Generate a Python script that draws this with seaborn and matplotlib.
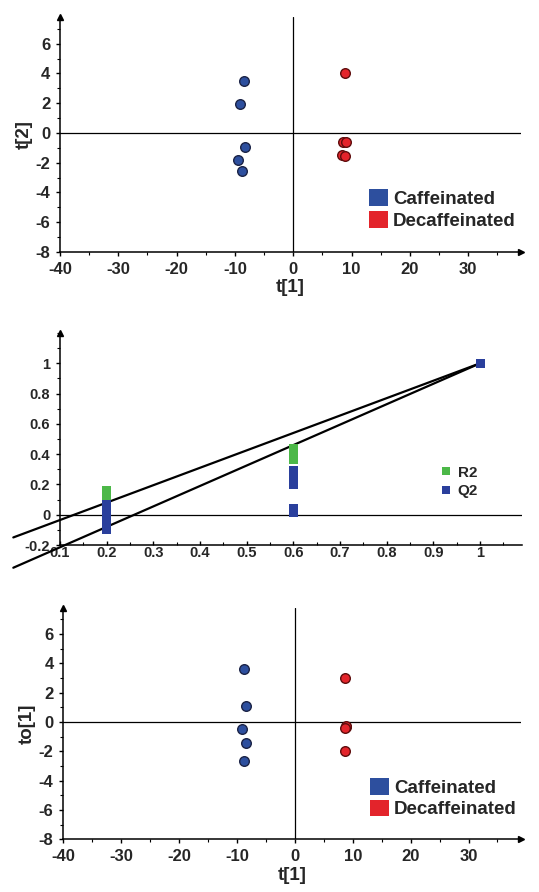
import matplotlib
matplotlib.use("Agg")
import matplotlib.pyplot as plt
from matplotlib.patches import Patch
from matplotlib.lines import Line2D
from matplotlib.ticker import MultipleLocator, FuncFormatter
import pandas as pd
import seaborn as sns

# ---------------------------------------------------------------- data
groups = ["Caffeinated", "Decaffeinated"]
group_colors = ["#2d4f9e", "#e3242b"]
group_edges = ["#1b2346", "#5e0d0d"]

# PLS-DA scores: t[1] vs t[2]
pls_caf_t1 = [-8.5, -9.1, -8.2, -9.4, -8.7]
pls_caf_t2 = [3.5, 1.95, -0.95, -1.8, -2.55]
pls_dec_t1 = [8.9, 8.6, 9.0, 8.3, 8.8]
pls_dec_t2 = [4.05, -0.6, -0.6, -1.45, -1.55]

# Permutation test (correlation of permuted Y vs. original Y)
perm_corr = [0.2] * 8 + [0.6] * 6 + [1.0]
perm_r2 = [0.16, 0.15, 0.14, 0.13, 0.12, 0.11, 0.10, 0.09,
           0.435, 0.42, 0.40, 0.385, 0.37, 0.365, 1.0]
perm_q2 = [0.065, 0.04, 0.02, 0.0, -0.025, -0.05, -0.075, -0.097,
           0.29, 0.26, 0.23, 0.20, 0.04, 0.015, 1.0]
r2_intercept = -0.15
q2_intercept = -0.35
perm_colors = {"R2": "#4cb848", "Q2": "#2a3f9c"}

# OPLS-DA scores: t[1] vs to[1]
opls_caf_t1 = [-8.8, -8.5, -9.05, -8.35, -8.8]
opls_caf_to = [3.6, 1.1, -0.5, -1.45, -2.65]
opls_dec_t1 = [8.75, 8.8, 8.9, 8.75, 8.7]
opls_dec_to = [3.0, -0.35, -0.25, -0.4, -2.0]

# ---------------------------------------------------------------- style
sns.set_theme(style="white")
plt.rcParams["font.family"] = ["Liberation Sans", "DejaVu Sans"]
plt.rcParams["font.weight"] = "bold"
plt.rcParams["axes.labelweight"] = "bold"
plt.rcParams["axes.unicode_minus"] = False

fig = plt.figure(figsize=(5.39, 8.92), dpi=100)

ax_top = fig.add_axes([0.1113, 0.7175, 0.8546, 0.2635])
ax_mid = fig.add_axes([0.1113, 0.3890, 0.8566, 0.2377])
ax_bot = fig.add_axes([0.1173, 0.0591, 0.8486, 0.2597])


def axis_frame(ax, right_arrow=True):
    for side in ("top", "right"):
        ax.spines[side].set_visible(False)
    for side in ("left", "bottom"):
        ax.spines[side].set_color("black")
        ax.spines[side].set_linewidth(1.1)
    ax.plot(0, 1, marker="^", color="black", markersize=4,
            transform=ax.transAxes, clip_on=False)
    if right_arrow:
        ax.plot(1, 0, marker=">", color="black", markersize=4,
                transform=ax.transAxes, clip_on=False)
    ax.tick_params(which="major", direction="out", length=3, width=1,
                   color="black", bottom=True, left=True)
    ax.tick_params(which="minor", direction="out", length=2, width=0.8,
                   color="black", bottom=True, left=True)
    ax.grid(False)


def score_panel(ax, caf_x, caf_y, dec_x, dec_y, ylabel):
    df = pd.DataFrame({
        "t1": caf_x + dec_x,
        "score": caf_y + dec_y,
        "group": [groups[0]] * len(caf_x) + [groups[1]] * len(dec_x),
    })
    for g, fc, ec in zip(groups, group_colors, group_edges):
        sns.scatterplot(data=df[df["group"] == g], x="t1", y="score",
                        color=fc, edgecolor=ec, linewidth=1.0, s=48,
                        ax=ax, legend=False, zorder=3)
    ax.axhline(0, color="black", lw=0.9, zorder=1)
    ax.axvline(0, color="black", lw=0.9, zorder=1)
    ax.set_xlim(-40, 39)
    ax.set_ylim(-8, 7.8)
    ax.xaxis.set_major_locator(MultipleLocator(10))
    ax.xaxis.set_minor_locator(MultipleLocator(5))
    ax.yaxis.set_major_locator(MultipleLocator(2))
    ax.yaxis.set_minor_locator(MultipleLocator(1))
    ax.set_yticks(range(-8, 7, 2))
    axis_frame(ax)
    ax.tick_params(axis="both", labelsize=12, pad=4)
    for lab in ax.get_xticklabels() + ax.get_yticklabels():
        lab.set_fontweight("bold")
    ax.set_xlabel("t[1]", fontsize=13.5, fontweight="bold", labelpad=2)
    ax.set_ylabel(ylabel, fontsize=13.5, fontweight="bold", labelpad=2)
    handles = [Patch(facecolor=c, edgecolor="none", label=g)
               for g, c in zip(groups, group_colors)]
    ax.legend(handles=handles, loc="center left",
              bbox_to_anchor=(0.671, 0.18), frameon=False,
              prop={"size": 13.5, "weight": "bold"},
              handlelength=1.0, handleheight=1.0, handletextpad=0.27,
              labelspacing=0.15, borderpad=0, borderaxespad=0)


# ---- top: PLS-DA scores
score_panel(ax_top, pls_caf_t1, pls_caf_t2, pls_dec_t1, pls_dec_t2, "t[2]")

# ---- middle: permutation validation
perm_df = pd.DataFrame({
    "corr": perm_corr * 2,
    "value": perm_r2 + perm_q2,
    "stat": ["R2"] * len(perm_corr) + ["Q2"] * len(perm_corr),
})
sns.scatterplot(data=perm_df, x="corr", y="value", hue="stat",
                palette=perm_colors, marker="s", s=40, linewidth=0,
                ax=ax_mid, legend=False, zorder=3)
ax_mid.axhline(0, color="black", lw=0.9, zorder=1)
for icpt, top in ((r2_intercept, perm_r2[-1]), (q2_intercept, perm_q2[-1])):
    ax_mid.plot([0, 1], [icpt, top], color="black", lw=1.6,
                clip_on=False, zorder=2)
ax_mid.set_xlim(0.1, 1.089)
ax_mid.set_ylim(-0.2, 1.2)
ax_mid.set_xticks([0.1, 0.2, 0.3, 0.4, 0.5, 0.6, 0.7, 0.8, 0.9, 1.0])
ax_mid.xaxis.set_minor_locator(MultipleLocator(0.05))
ax_mid.set_yticks([-0.2, 0, 0.2, 0.4, 0.6, 0.8, 1.0])
ax_mid.yaxis.set_minor_locator(MultipleLocator(0.1))
fmt = FuncFormatter(lambda v, _: f"{round(v, 2):g}")
ax_mid.xaxis.set_major_formatter(fmt)
ax_mid.yaxis.set_major_formatter(fmt)
axis_frame(ax_mid, right_arrow=False)
ax_mid.tick_params(axis="x", which="both", direction="in", pad=1)
ax_mid.tick_params(axis="both", labelsize=10.5)
ax_mid.tick_params(axis="y", pad=4)
for lab in ax_mid.get_xticklabels() + ax_mid.get_yticklabels():
    lab.set_fontweight("bold")
ax_mid.set_xlabel("")
ax_mid.set_ylabel("")
perm_handles = [Line2D([], [], marker="s", linestyle="none", markersize=6,
                       markerfacecolor=perm_colors[k], markeredgewidth=0,
                       label=k) for k in ("R2", "Q2")]
ax_mid.legend(handles=perm_handles, loc="center left",
              bbox_to_anchor=(0.822, 0.297), frameon=False,
              prop={"size": 11, "weight": "bold"},
              handlelength=0.8, handletextpad=0.4, labelspacing=0.3,
              borderpad=0, borderaxespad=0)

# ---- bottom: OPLS-DA scores
score_panel(ax_bot, opls_caf_t1, opls_caf_to, opls_dec_t1, opls_dec_to, "to[1]")
ax_bot.get_legend().set_bbox_to_anchor((0.671, 0.177), transform=ax_bot.transAxes)

fig.savefig("out.png", dpi=100, facecolor="white")
